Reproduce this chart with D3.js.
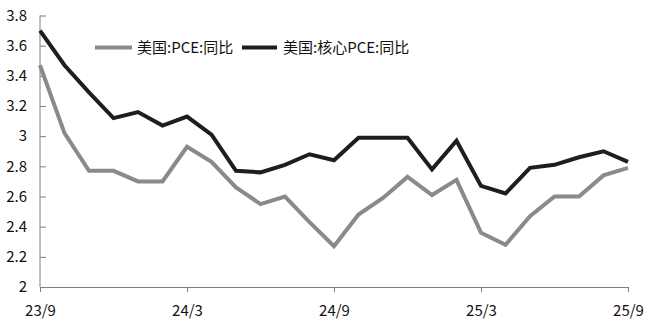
<!DOCTYPE html>
<html><head><meta charset="utf-8">
<script src="https://cdn.jsdelivr.net/npm/d3@7"></script>
<style>
html,body{margin:0;padding:0;background:#fff;}
svg text{font-family:"Noto Sans CJK SC","Noto Sans",sans-serif;}
</style></head>
<body><svg id="c" width="656" height="332"></svg>
<script>
const months = ["23/9","23/10","23/11","23/12","24/1","24/2","24/3","24/4","24/5","24/6","24/7","24/8","24/9","24/10","24/11","24/12","25/1","25/2","25/3","25/4","25/5","25/6","25/7","25/8","25/9"];
const pce = [3.47,3.02,2.77,2.77,2.70,2.70,2.93,2.83,2.66,2.55,2.60,2.43,2.27,2.48,2.59,2.73,2.61,2.71,2.36,2.28,2.47,2.60,2.60,2.74,2.79];
const corePce = [3.70,3.47,3.29,3.12,3.16,3.07,3.13,3.01,2.77,2.76,2.81,2.88,2.84,2.99,2.99,2.99,2.78,2.97,2.67,2.62,2.79,2.81,2.86,2.90,2.83];
const xTickLabels = ["23/9","24/3","24/9","25/3","25/9"];
const yTicks = [2,2.2,2.4,2.6,2.8,3,3.2,3.4,3.6,3.8];
const seriesNames = ["美国:PCE:同比","美国:核心PCE:同比"];
const colors = ["#8a8a8a","#1e1e1e"];

const svg = d3.select("#c");
const x = d3.scalePoint().domain(months).range([40,628]);
const y = d3.scaleLinear().domain([2,3.8]).range([287,15.5]);

// y axis
const ya = svg.append("g").attr("transform","translate(40,0)")
  .call(d3.axisRight(y).tickValues(yTicks).tickSize(6).tickFormat(d=>d3.format("")(+d.toFixed(1))));
ya.select(".domain").attr("stroke","#7f7f7f").attr("d","M0,15.5V287");
ya.selectAll(".tick line").attr("stroke","#7f7f7f");
ya.selectAll(".tick text").attr("x",-13).attr("text-anchor","end").attr("font-size",15).attr("fill","#111");

// x axis
const xa = svg.append("g").attr("transform","translate(0,287)")
  .call(d3.axisBottom(x).tickValues(xTickLabels).tickSize(5).tickSizeOuter(0));
xa.select(".domain").attr("stroke","#7f7f7f");
xa.selectAll(".tick line").attr("stroke","#7f7f7f");
xa.selectAll(".tick text").attr("y",18).attr("font-size",15).attr("fill","#111");

const line = d3.line().x((d,i)=>x(months[i])).y(d=>y(d));
[pce, corePce].forEach((s,k)=>{
  svg.append("path").datum(s).attr("d",line).attr("fill","none")
    .attr("stroke",colors[k]).attr("stroke-width",4).attr("stroke-linejoin","miter");
});

// legend
const leg = [{x0:95,x1:132,tx:137},{x0:242,x1:277,tx:283}];
leg.forEach((l,k)=>{
  svg.append("line").attr("x1",l.x0).attr("x2",l.x1).attr("y1",47.5).attr("y2",47.5)
    .attr("stroke",colors[k]).attr("stroke-width",4);
  svg.append("text").attr("x",l.tx).attr("y",53).attr("font-size",15).attr("fill","#111")
    .text(seriesNames[k]);
});
</script></body></html>
